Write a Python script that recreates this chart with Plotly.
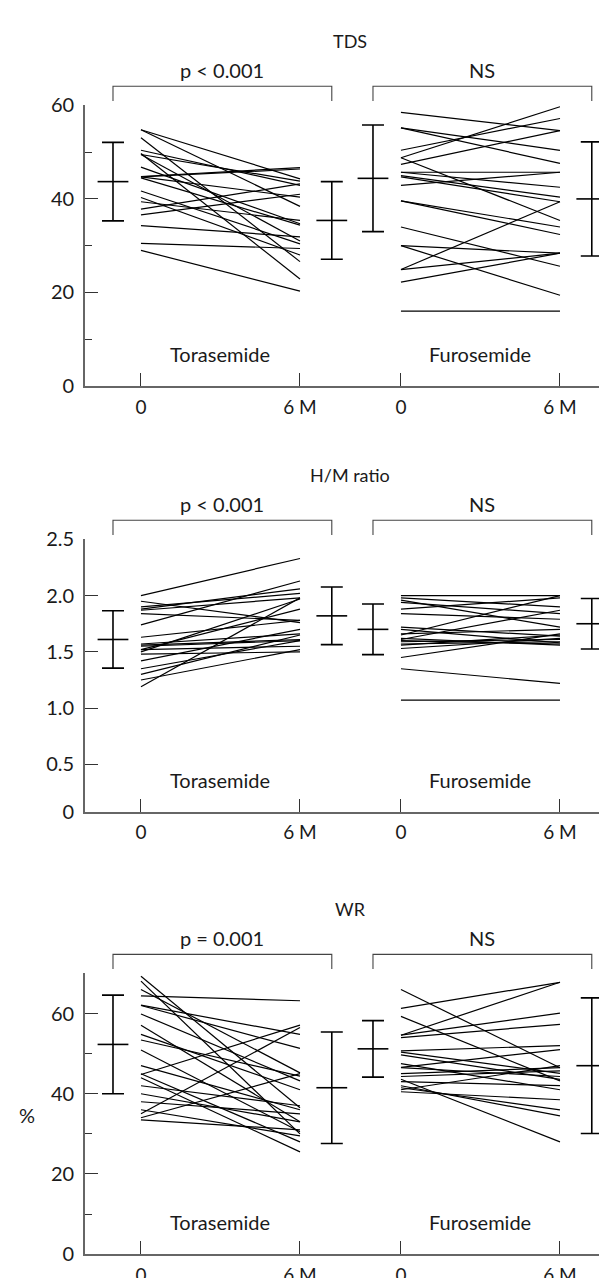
import plotly.graph_objects as go

# ---------------- data ----------------
PANEL_TITLES = ["TDS", "H/M ratio", "WR"]
P_LABELS = [["p < 0.001", "NS"], ["p < 0.001", "NS"], ["p = 0.001", "NS"]]
GROUPS = ["Torasemide", "Furosemide"]
X_TICK_TEXT = ["0", "6 M", "0", "6 M"]

# TDS
TDS_TORA_0 = [54.8, 54.8, 53.1, 50.4, 49.7, 49.5, 46.8, 44.8, 44.7, 44.5,
              41.7, 40.3, 39.4, 37.8, 36.6, 34.3, 30.5, 29.0, 44.7, 49.5]
TDS_TORA_6 = [44.3, 38.4, 26.6, 42.9, 22.9, 31.0, 34.7, 46.7, 46.4, 34.4,
              30.4, 28.0, 35.4, 43.2, 41.0, 31.9, 29.4, 20.3, 40.4, 43.8]
TDS_FURO_0 = [58.5, 55.2, 55.2, 50.4, 48.8, 48.8, 47.4, 45.7, 45.0, 44.7, 42.9,
              45.7, 39.6, 39.6, 34.0, 30.0, 30.0, 24.9, 24.9, 22.2, 16.0]
TDS_FURO_6 = [54.6, 50.4, 47.6, 57.2, 59.7, 35.4, 54.6, 45.7, 40.4, 39.4, 45.7,
              42.5, 34.0, 32.4, 25.6, 28.4, 19.4, 39.4, 28.4, 28.4, 16.0]
TDS_MEAN = [43.7, 35.4, 44.4, 40.0]   # tora 0, tora 6M, furo 0, furo 6M
TDS_SD = [8.4, 8.3, 11.4, 12.2]

# H/M ratio
HM_TORA_0 = [2.00, 1.95, 1.90, 1.88, 1.87, 1.84, 1.74, 1.63, 1.57, 1.56,
             1.55, 1.52, 1.50, 1.48, 1.42, 1.35, 1.30, 1.25, 1.19, 1.52]
HM_TORA_6 = [2.33, 1.76, 2.02, 2.06, 1.98, 1.78, 2.13, 1.78, 1.66, 1.61,
             1.60, 1.55, 1.97, 1.50, 1.70, 1.60, 1.65, 1.52, 1.98, 1.88]
HM_FURO_0 = [2.00, 1.98, 1.96, 1.94, 1.84, 1.72, 1.65, 1.61, 1.59, 1.57,
             1.56, 1.53, 1.60, 1.45, 1.35, 1.07, 1.62, 1.66, 1.88, 1.70]
HM_FURO_6 = [2.00, 1.90, 1.72, 1.84, 1.79, 1.64, 2.00, 1.87, 1.61, 1.59,
             1.65, 1.62, 1.57, 1.66, 1.22, 1.07, 1.56, 1.70, 1.98, 1.58]
HM_MEAN = [1.61, 1.82, 1.70, 1.75]
HM_SD = [0.255, 0.256, 0.225, 0.225]

# WR (%)
WR_TORA_0 = [69.3, 68.1, 66.0, 64.4, 62.1, 62.0, 59.9, 57.1, 54.8, 53.4, 50.9,
             47.0, 45.0, 44.8, 44.0, 42.0, 40.0, 38.0, 36.0, 35.0, 34.0, 33.5]
WR_TORA_6 = [36.5, 30.0, 45.2, 63.2, 54.8, 51.3, 43.2, 33.0, 41.0, 44.4, 30.5,
             36.0, 28.0, 57.1, 25.5, 37.0, 33.0, 35.0, 29.5, 56.5, 45.0, 31.0]
WR_FURO_0 = [66.0, 61.3, 59.3, 54.6, 54.6, 54.0, 50.7, 50.4, 49.7, 46.6,
             46.5, 45.0, 44.3, 43.6, 43.0, 42.0, 41.5, 41.0, 40.5, 47.5]
WR_FURO_6 = [46.5, 67.8, 43.2, 67.8, 60.1, 57.3, 52.0, 45.1, 43.6, 51.0,
             44.3, 46.5, 45.7, 28.0, 42.0, 34.5, 36.0, 47.0, 38.5, 41.0]
WR_MEAN = [52.3, 41.5, 51.2, 47.0]
WR_SD = [12.3, 13.9, 7.05, 16.9]

PANEL_DATA = [
    (TDS_TORA_0, TDS_TORA_6, TDS_FURO_0, TDS_FURO_6, TDS_MEAN, TDS_SD),
    (HM_TORA_0, HM_TORA_6, HM_FURO_0, HM_FURO_6, HM_MEAN, HM_SD),
    (WR_TORA_0, WR_TORA_6, WR_FURO_0, WR_FURO_6, WR_MEAN, WR_SD),
]

# ---------------- layout geometry ----------------
W, H = 607, 1278
ML = 77
FONT = "Lato"
FS = 20
GROUP_X0 = [0.0, 1.635]        # x of baseline for each drug group; 6M = +1
SD_OFF = [-0.176, 0.20]        # offset of mean±SD bars from 0 / 6M
XRANGE = [-0.352, 2.981]
# panel axes: pixel rows of y-axis bottom and top, value range
PANELS = [
    dict(bot=372.0, top=86.0, rng=[0, 60], major=[0, 20, 40, 60], text=["0", "20", "40", "60"], minor=[10, 30, 50]),
    dict(bot=805.7, top=528.3, rng=[0.08, 2.5], major=[0.08, 0.5, 1.0, 1.5, 2.0, 2.5],
         text=["0", "0.5", "1.0", "1.5", "2.0", "2.5"], minor=[]),
    dict(bot=1256.7, top=970.7, rng=[0, 70], major=[0, 20, 40, 60], text=["0", "20", "40", "60"], minor=[10, 30, 50, 70]),
]


def py(px):
    return 1 - px / H


AX = "#666666"
TXT = "#1a1a1a"
fig = go.Figure()
shapes = []
annotations = []
layout_axes = {}

for i, (p, d) in enumerate(zip(PANELS, PANEL_DATA)):
    n = "" if i == 0 else str(i + 1)
    xa, ya = "x" + n, "y" + n
    t0, t6, f0, f6, means, sds = d
    for g, (a, b) in enumerate([(t0, t6), (f0, f6)]):
        xs, ys = [], []
        for va, vb in zip(a, b):
            xs += [GROUP_X0[g], GROUP_X0[g] + 1, None]
            ys += [va, vb, None]
        fig.add_trace(go.Scatter(x=xs, y=ys, mode="lines", xaxis=xa, yaxis=ya,
                                 line=dict(color="black", width=1.2), hoverinfo="skip"))
    bar_x = [GROUP_X0[0] + SD_OFF[0], GROUP_X0[0] + 1 + SD_OFF[1],
             GROUP_X0[1] + SD_OFF[0], GROUP_X0[1] + 1 + SD_OFF[1]]
    fig.add_trace(go.Scatter(
        x=bar_x, y=means, mode="markers", xaxis=xa, yaxis=ya,
        marker=dict(symbol="line-ew", size=22, line=dict(color="black", width=1.6)),
        error_y=dict(type="data", array=sds, visible=True, width=11, thickness=1.6, color="black"),
        cliponaxis=False))

    top_paper = py(p["top"])
    bot_paper = py(p["bot"])
    layout_axes["xaxis" + n] = dict(
        domain=[0, 1], anchor=ya, range=XRANGE, showline=True, linecolor=AX, linewidth=1.8,
        ticks="inside", ticklen=13, tickwidth=1, tickcolor="#333333",
        tickvals=[GROUP_X0[0], GROUP_X0[0] + 1, GROUP_X0[1], GROUP_X0[1] + 1],
        ticktext=X_TICK_TEXT, showgrid=False, zeroline=False, ticklabelstandoff=3,
        tickfont=dict(family=FONT, size=FS - 1, color=TXT))
    layout_axes["yaxis" + n] = dict(
        domain=[bot_paper, top_paper], anchor=xa, range=p["rng"], showline=True,
        linecolor=AX, linewidth=1.8, ticks="inside", ticklen=13, tickwidth=1.3,
        tickcolor="#333333", tickvals=p["major"], ticktext=p["text"], showgrid=False,
        zeroline=False, ticklabelstandoff=5, tickfont=dict(family=FONT, size=FS, color=TXT),
        minor=dict(tickmode="array", tickvals=p["minor"], ticks="inside", ticklen=7,
                   tickcolor="#333333", tickwidth=1, showgrid=False))

    # brackets and labels above each panel
    yb_top = py(p["top"] - 19.5)
    yb_bot = py(p["top"] - 4.5)
    for g in range(2):
        xl = GROUP_X0[g] + SD_OFF[0]
        xr = GROUP_X0[g] + 1 + SD_OFF[1]
        shapes.append(dict(type="path", xref=xa, yref="paper",
                           path=f"M {xl},{yb_bot} L {xl},{yb_top} L {xr},{yb_top} L {xr},{yb_bot}",
                           line=dict(color="#444444", width=1.1)))
        annotations.append(dict(x=(xl + xr) / 2, y=py(p["top"] - 36), xref=xa, yref="paper",
                                xanchor="center", yanchor="middle",
                                text=P_LABELS[i][g], showarrow=False,
                                font=dict(family=FONT, size=FS, color=TXT)))
        annotations.append(dict(x=GROUP_X0[g] + 0.5, y=0, xref=xa, yref=ya + " domain",
                                xanchor="center", yanchor="middle", yshift=32,
                                text=GROUPS[g], showarrow=False,
                                font=dict(family=FONT, size=FS, color=TXT)))
    annotations.append(dict(x=0.5, y=py(p["top"] - 66), xref="paper", yref="paper",
                            xanchor="center", yanchor="middle",
                            text=PANEL_TITLES[i], showarrow=False,
                            font=dict(family=FONT, size=FS - 2, color=TXT)))

annotations.append(dict(x=(19 - ML) / (W - ML), y=34.6, xref="paper", yref="y3", text="%",
                        xanchor="center", yanchor="middle",
                        showarrow=False, font=dict(family=FONT, size=FS, color=TXT)))

fig.update_layout(
    width=W, height=H, margin=dict(l=ML, r=0, t=0, b=0),
    paper_bgcolor="white", plot_bgcolor="white", showlegend=False,
    shapes=shapes, annotations=annotations, **layout_axes)

fig.write_html("out.html")
